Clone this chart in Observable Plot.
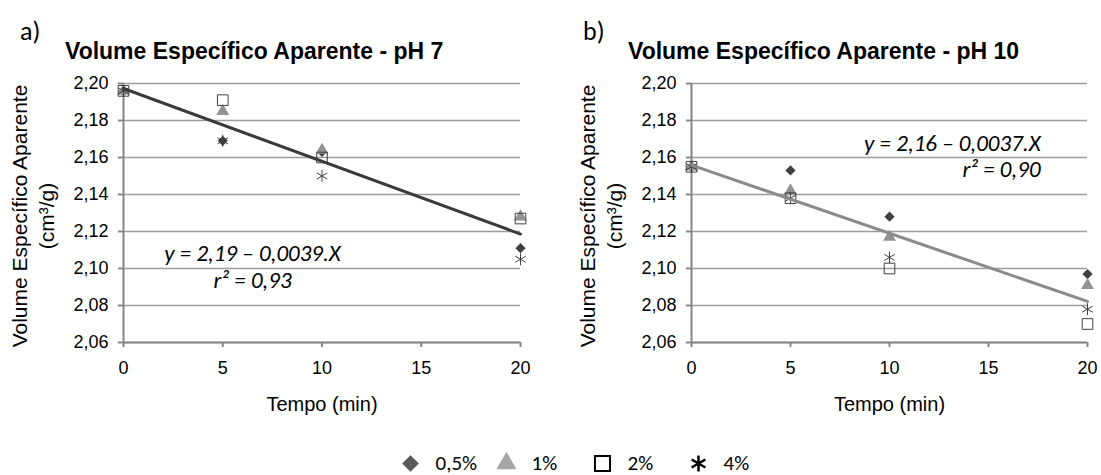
<!DOCTYPE html>
<html><head><meta charset="utf-8">
<script src="https://cdn.jsdelivr.net/npm/d3@7"></script>
<script src="https://cdn.jsdelivr.net/npm/@observablehq/plot@0.6"></script>
<style>
body{margin:0;background:#fff;}
#root{position:relative;width:1101px;height:475px;overflow:hidden;font-family:"Liberation Sans",Arial,sans-serif;color:#000;}
.abs{position:absolute;}
.letter{font-family:Carlito,Lato,sans-serif;font-size:26px;line-height:1;}
.title{font-weight:bold;font-size:23px;white-space:nowrap;line-height:1;}
svg{overflow:visible;}
</style></head><body><div id="root"></div>
<script>
// ---- data ----
const times = [0, 5, 10, 20];
const seriesNames = ["0,5%", "1%", "2%", "4%"];
// pH 7
const ph7_05 = [2.196, 2.169, 2.163, 2.111];
const ph7_1  = [2.196, 2.185, 2.164, 2.128];
const ph7_2  = [2.196, 2.191, 2.160, 2.127];
const ph7_4  = [2.196, 2.169, 2.150, 2.105];
// pH 10
const ph10_05 = [2.155, 2.153, 2.128, 2.097];
const ph10_1  = [2.155, 2.142, 2.117, 2.091];
const ph10_2  = [2.155, 2.138, 2.100, 2.070];
const ph10_4  = [2.155, 2.138, 2.106, 2.078];

const xTicks = [0, 5, 10, 15, 20];
const yTicks = [2.06, 2.08, 2.10, 2.12, 2.14, 2.16, 2.18, 2.20];
const titles = ["Volume Específico Aparente - pH 7", "Volume Específico Aparente - pH 10"];
const panelLetters = ["a)", "b)"];
const equations = ["y = 2,19 – 0,0039.X\nr² = 0,93", "y = 2,16 – 0,0037.X\nr² = 0,90"];
const yLabel = "Volume Específico Aparente\n(cm³/g)";
const xLabel = "Tempo (min)";

// ---- build tables ----
function table(lists) {
  const rows = [];
  lists.forEach((vals, i) => vals.forEach((v, j) => rows.push({series: seriesNames[i], t: times[j], v})));
  return rows;
}
const rows7 = table([ph7_05, ph7_1, ph7_2, ph7_4]);
const rows10 = table([ph10_05, ph10_1, ph10_2, ph10_4]);

const symStyles = {
  "0,5%": {symbol: "diamond2", fill: "#404040", stroke: "none", r: 4.6},
  "1%":   {symbol: "triangle", fill: "#939393", stroke: "none", r: 4.8},
  "2%":   {symbol: "square", fill: "none", stroke: "#404040", strokeWidth: 1, r: 6},
  "4%":   {symbol: "asterisk", fill: "none", stroke: "#404040", strokeWidth: 1, r: 5.7}
};
const legendStyles = {
  "0,5%": {symbol: "diamond2", fill: "#595959", stroke: "none", r: 7.5},
  "1%":   {symbol: "triangle", fill: "#a6a6a6", stroke: "none", r: 7.5},
  "2%":   {symbol: "square", fill: "none", stroke: "#000", strokeWidth: 2, r: 8.5},
  "4%":   {symbol: "asterisk", fill: "none", stroke: "#000", strokeWidth: 2.5, r: 7.5}
};

const fmt = d => d.toFixed(2).replace(".", ",");
const FONT = "'Liberation Sans', Arial, sans-serif";

function panel(rows, lineColor, eq, eqX, eqY, eqAnchor, width, marginRight) {
  const dots = seriesNames.map(s => Plot.dot(rows.filter(d => d.series === s), {x: "t", y: "v", ...symStyles[s]}));
  return Plot.plot({
    width, height: 425,
    marginLeft: 123, marginRight, marginTop: 83, marginBottom: 83,
    style: {fontFamily: FONT, fontSize: "18px", color: "#000", background: "transparent"},
    x: {domain: [0, 20]},
    y: {domain: [2.06, 2.20]},
    marks: [
      Plot.gridY(yTicks, {stroke: "#9c9c9c", strokeOpacity: 1, strokeWidth: 1.5}),
      Plot.axisY(yTicks, {tickSize: 5, tickPadding: 10, tickFormat: fmt, stroke: "#868686", strokeWidth: 2, label: null, fill: "#000"}),
      Plot.axisX(xTicks, {tickSize: 5, tickPadding: 14, stroke: "#868686", strokeWidth: 2, label: null, fill: "#000"}),
      Plot.ruleX([0], {stroke: "#868686", strokeWidth: 2}),
      Plot.ruleY([2.06], {stroke: "#868686", strokeWidth: 2}),
      ...dots,
      Plot.linearRegressionY(rows, {x: "t", y: "v", ci: 0, stroke: lineColor, strokeWidth: 3}),
      Plot.text([eq], {x: eqX, y: eqY, text: d => d, textAnchor: eqAnchor, lineAnchor: "middle", fontSize: 23, fontStyle: "italic", fontFamily: "Carlito, Lato, sans-serif", lineHeight: 1.15, fill: "#000"}),
      Plot.text([yLabel], {frameAnchor: "left", text: d => d, rotate: -90, dx: -92, dy: 3, textAnchor: "middle", lineAnchor: "middle", lineHeight: 1.3, fontSize: 21, fill: "#000"}),
      Plot.text([xLabel], {frameAnchor: "bottom", text: d => d, dy: 62, textAnchor: "middle", lineAnchor: "middle", fontSize: 20, fill: "#000"})
    ]
  });
}

const root = document.getElementById("root");
function place(el, left, top) { el.classList.add("abs"); el.style.left = left + "px"; el.style.top = top + "px"; root.appendChild(el); return el; }

const p1 = panel(rows7, "#3a3a3a", equations[0], 6.5, 2.1013, "middle", 550, 30);
const p2 = panel(rows10, "#8a8a8a", equations[1], 17.63, 2.1612, "end", 533, 14);
place(p1, 0, 0);
place(p2, 568, 0);

function div(text, cls) { const d = document.createElement("div"); d.className = cls; d.textContent = text; return d; }
place(div(panelLetters[0], "letter"), 20, 18);
place(div(panelLetters[1], "letter"), 583, 18);
place(div(titles[0], "title"), 65, 40);
place(div(titles[1], "title"), 628, 40);

// legend
const legend = Plot.plot({
  width: 1101, height: 24, margin: 0,
  style: {background: "transparent"},
  x: {type: "point", domain: seriesNames, range: [360, 747], axis: null},
  marks: [
    ...seriesNames.map(s => Plot.dot([s], {x: d => d, ...legendStyles[s], frameAnchor: "middle"})),
    Plot.text(seriesNames, {x: d => d, text: d => d, dx: 25, textAnchor: "start", fontSize: 21, fontFamily: "Carlito, Lato, sans-serif", fill: "#000", frameAnchor: "middle"})
  ]
});
place(legend, 0, 451);
</script></body></html>
